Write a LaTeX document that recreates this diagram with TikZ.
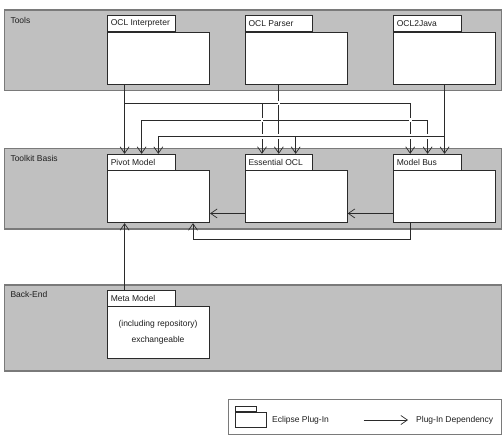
\documentclass[tikz,border=0pt]{standalone}
\usepackage{fontspec}
\setmainfont{Liberation Sans}
\usetikzlibrary{arrows.meta,calc}
\definecolor{bandgray}{HTML}{C0C0C0}
\definecolor{bandline}{HTML}{7A7A7A}
\definecolor{linecol}{HTML}{2A2A2A}
\definecolor{txt}{HTML}{1E1E1E}
\tikzset{
  band/.style={fill=bandgray, draw=bandline, line width=1.2pt},
  pkgbody/.style={draw=linecol, fill=white, line width=0.75pt, rectangle, inner sep=0pt,
    minimum width=102.3pt, minimum height=52pt, anchor=north west},
  pkgtab/.style={draw=linecol, fill=white, line width=0.75pt, rectangle, inner sep=0pt,
    minimum width=67.7pt, minimum height=15.8pt, anchor=south west},
  lbl/.style={text=txt, font=\fontsize{8.5}{10}\selectfont, inner sep=0pt},
  dep/.style={draw=linecol, line width=0.7pt, -{Straight Barb[length=6.5pt,width=9pt,line width=0.7pt]}},
  gapfill/.style={fill=white}
}
\newcommand\xgap[2]{%
  \path (#1 |- 0,#2) coordinate (xg);
  \fill[gapfill] ([shift={(-1.3,-2.3)}]xg) rectangle ([shift={(1.3,-0.45)}]xg);
  \fill[gapfill] ([shift={(-1.3,0.45)}]xg) rectangle ([shift={(1.3,2.3)}]xg);
}
\begin{document}
\begin{tikzpicture}[x=1pt,y=-1pt]
\useasboundingbox (0,0) rectangle (504,442);
% bands
\draw[band] (4.3,10) rectangle (501.5,90.7);
\draw[band] (4.3,148.3) rectangle (501.5,229);
\draw[band] (4.3,285) rectangle (501.5,371);
\node[lbl, anchor=west] (tlTools) at (10.3,20.5) {Tools};
\node[lbl, anchor=west] (tlBasis) at (10.3,158) {Toolkit Basis};
\node[lbl, anchor=west] (tlBack) at (10.3,294) {Back-End};
% Tools packages
\node[pkgbody] (interp) at (107,32) {};
\node[pkgtab] (interpT) at (interp.north west) {};
\node[lbl, anchor=west] at ([xshift=3.6pt]interpT.west) {OCL Interpreter};
\node[pkgbody] (parser) at (244.7,32) {};
\node[pkgtab] (parserT) at (parser.north west) {};
\node[lbl, anchor=west] at ([xshift=3.6pt]parserT.west) {OCL Parser};
\node[pkgbody] (java) at (393,32) {};
\node[pkgtab] (javaT) at (java.north west) {};
\node[lbl, anchor=west] at ([xshift=3.6pt]javaT.west) {OCL2Java};
% Toolkit basis packages
\node[pkgbody] (pivot) at (107,170.4) {};
\node[pkgtab] (pivotT) at (pivot.north west) {};
\node[lbl, anchor=west] at ([xshift=3.6pt]pivotT.west) {Pivot Model};
\node[pkgbody] (ess) at (244.7,170.4) {};
\node[pkgtab] (essT) at (ess.north west) {};
\node[lbl, anchor=west] at ([xshift=3.6pt]essT.west) {Essential OCL};
\node[pkgbody] (bus) at (393,170.4) {};
\node[pkgtab] (busT) at (bus.north west) {};
\node[lbl, anchor=west] at ([xshift=3.6pt]busT.west) {Model Bus};
% Back-end package
\node[pkgbody] (meta) at (107,306.4) {};
\node[pkgtab] (metaT) at (meta.north west) {};
\node[lbl, anchor=west] at ([xshift=3.6pt]metaT.west) {Meta Model};
\node[lbl] (metaTxt1) at (158,324) {(including repository)};
\node[lbl] (metaTxt2) at (158,340) {exchangeable};
% attachment points
\coordinate (sI) at ([xshift=17.6pt]interp.south west);
\coordinate (sP) at ([xshift=34.1pt]parser.south west);
\coordinate (sJ) at ([xshift=51.6pt]java.south west);
\coordinate (pA) at ([xshift=17.6pt]pivotT.north west);
\coordinate (pB) at ([xshift=34.6pt]pivotT.north west);
\coordinate (pC) at ([xshift=51.3pt]pivotT.north west);
\coordinate (eA) at ([xshift=17.3pt]essT.north west);
\coordinate (eB) at ([xshift=34.1pt]essT.north west);
\coordinate (eC) at ([xshift=51pt]essT.north west);
\coordinate (bA) at ([xshift=17.2pt]busT.north west);
\coordinate (bB) at ([xshift=34.6pt]busT.north west);
\coordinate (bC) at ([xshift=51.6pt]busT.north west);
% net: OCL Interpreter
\draw[dep] (sI) -- (pA);
\draw[dep] (sI |- 0,103) -| (bA);
\draw[dep] (eA |- 0,103) -- (eA);
% net: OCL Parser
\draw[dep] (sP) -- (eB);
\draw[dep] (eB |- 0,120) -| (pB);
\draw[dep] (eB |- 0,120) -| (bB);
% net: OCL2Java
\draw[dep] (sJ) -- (bC);
\draw[dep] (sJ |- 0,136.7) -| (pC);
\draw[dep] (eC |- 0,136.7) -- (eC);
% line crossings
\xgap{sP}{103}
\xgap{eA}{120}
\xgap{bA}{120}
\xgap{eA}{136.7}
\xgap{eB}{136.7}
\xgap{bA}{136.7}
\xgap{bB}{136.7}
% inner dependencies
\draw[dep] ([yshift=9.7pt]ess.south west) -- ([yshift=9.7pt]pivot.south east);
\draw[dep] ([yshift=9.7pt]bus.south west) -- ([yshift=9.7pt]ess.south east);
\coordinate (pD) at ([xshift=86pt]pivot.south west);
\draw[dep] (bA |- bus.south) -- (bA |- 0,239.3) -| (pD);
\draw[dep] (sI |- metaT.north) -- (sI |- pivot.south);
% legend
\node[draw=bandline, line width=0.9pt, rectangle, inner sep=0pt, minimum width=273pt, minimum height=35pt, anchor=north west] (legend) at (228,399) {};
\node[draw=linecol, fill=white, line width=0.6pt, rectangle, inner sep=0pt, minimum width=30.7pt, minimum height=15.3pt, anchor=north west] (legBody) at (235,412) {};
\node[draw=linecol, fill=white, line width=0.6pt, rectangle, inner sep=0pt, minimum width=20.7pt, minimum height=5pt, anchor=south west] (legTab) at (legBody.north west) {};
\node[lbl, anchor=west] (legTxt1) at (272,420) {Eclipse Plug-In};
\coordinate (legA0) at (363.7,420);
\coordinate (legA1) at (408,420);
\draw[dep] (legA0) -- (legA1);
\node[lbl, anchor=west] (legTxt2) at (416,420) {Plug-In Dependency};
\end{tikzpicture}
\end{document}
